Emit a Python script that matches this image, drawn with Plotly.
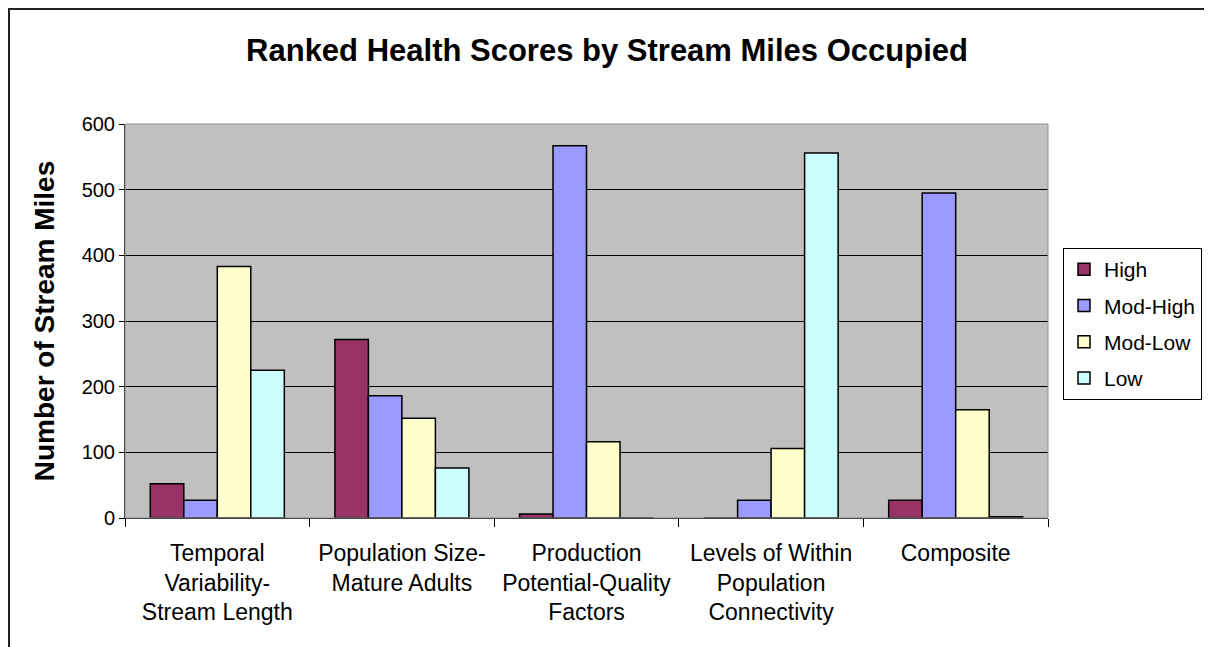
import plotly.graph_objects as go

categories = [
    "Temporal<br>Variability-<br>Stream Length",
    "Population Size-<br>Mature Adults",
    "Production<br>Potential-Quality<br>Factors",
    "Levels of Within<br>Population<br>Connectivity",
    "Composite",
]
series_names = ["High", "Mod-High", "Mod-Low", "Low"]
high = [52, 272, 6, 0, 27]
mod_high = [27, 186, 567, 27, 495]
mod_low = [383, 152, 116, 106, 165]
low = [225, 76, 0, 556, 2]
y_ticks = [0, 100, 200, 300, 400, 500, 600]

colors = ["#993366", "#9999FF", "#FFFFCC", "#CCFFFF"]
FONT = "Arial, Liberation Sans, sans-serif"

# page has an 8px body margin, so the figure starts at (8, 8)
OFF = 8
W, H = 1212 - OFF, 647 - OFF
L, R, T, B = 125 - OFF, 164, 124 - OFF, 129
pw, ph = W - L - R, H - T - B


def px_x(x):
    # page pixel -> paper x
    return (x - OFF - L) / pw


def px_y(y):
    # page pixel -> paper y
    return (H - B - (y - OFF)) / ph


fig = go.Figure()
for name, vals, col in zip(series_names, [high, mod_high, mod_low, low], colors):
    fig.add_trace(go.Bar(
        x=categories, y=vals, name=name, legendgroup=name,
        marker=dict(color=col, line=dict(color="black", width=1.5)),
    ))

fig.update_layout(
    width=W, height=H,
    margin=dict(l=L, r=R, t=T, b=B, autoexpand=False),
    paper_bgcolor="white",
    plot_bgcolor="#C0C0C0",
    barmode="group",
    bargap=0.274,
    bargroupgap=0,
    font=dict(family=FONT, color="black"),
    title=dict(
        text="<b>Ranked Health Scores by Stream Miles Occupied</b>",
        x=px_x(607), xref="paper", xanchor="center",
        y=1 - (50 - OFF) / H, yanchor="middle",
        font=dict(size=31, family=FONT),
    ),
    legend=dict(
        x=px_x(1063), y=px_y(248), xanchor="left", yanchor="top",
        bordercolor="black", borderwidth=1, bgcolor="white",
        font=dict(size=21, family=FONT),
        tracegroupgap=6,
        itemwidth=30,
    ),
    showlegend=True,
)

fig.update_xaxes(
    showline=True, linecolor="black", linewidth=1,
    ticks="outside", tickson="boundaries", ticklen=8, tickcolor="black",
    tickfont=dict(size=23, family=FONT),
    tickangle=0,
    ticklabelstandoff=14,
    showgrid=False,
)
fig.update_yaxes(
    range=[0, 600], tickvals=y_ticks,
    showline=True, linecolor="black", linewidth=1,
    ticks="outside", ticklen=5, tickcolor="black",
    tickfont=dict(size=20, family=FONT),
    showgrid=True, gridcolor="black", gridwidth=1,
    zeroline=False,
    title=dict(text="<b>Number of Stream Miles</b>", font=dict(size=28, family=FONT), standoff=18),
)

# plot area outline (gray on top/right)
fig.add_shape(type="rect", xref="paper", yref="paper", x0=0, y0=0, x1=1, y1=1,
              line=dict(color="#909090", width=1), layer="above")
# outer chart frame
fig.add_shape(type="rect", xref="paper", yref="paper",
              x0=px_x(9), y0=px_y(670), x1=px_x(1230), y1=px_y(9),
              line=dict(color="#222222", width=2))

fig.write_html("out.html")
